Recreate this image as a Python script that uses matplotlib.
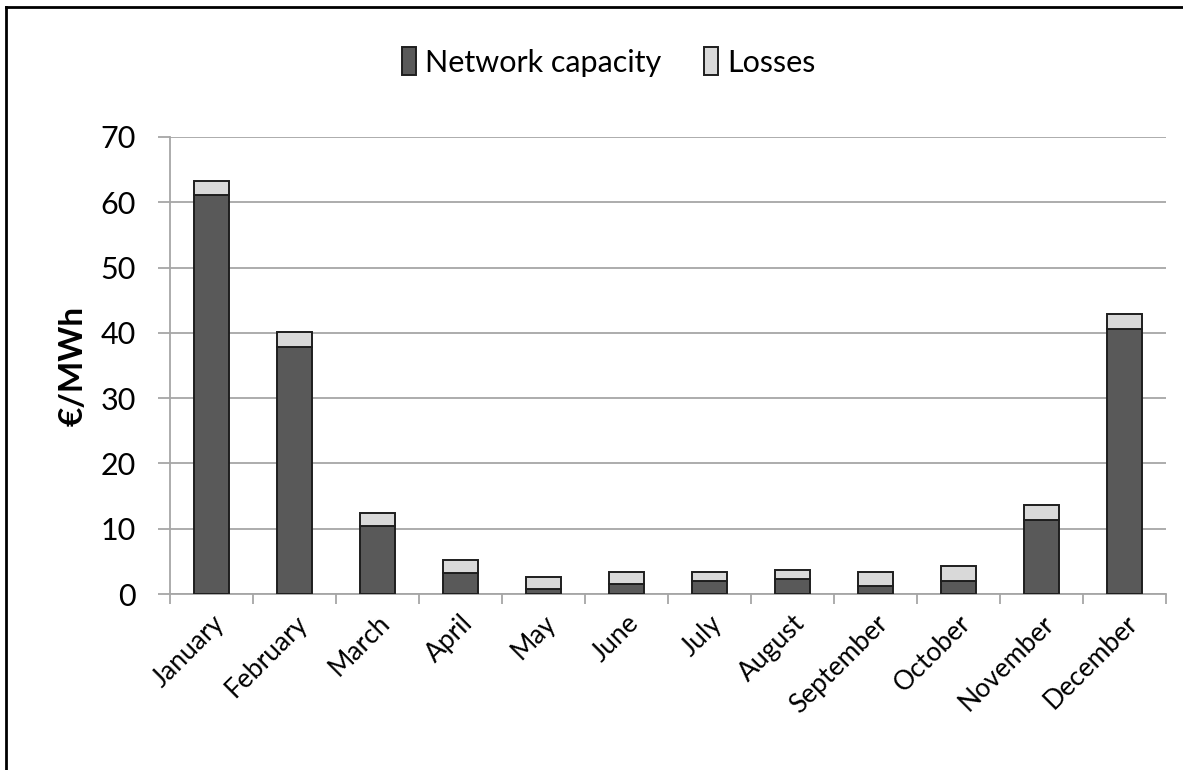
"""Monthly network cost per MWh: capacity + losses, stacked bars."""

import matplotlib
matplotlib.use("Agg")
import matplotlib.pyplot as plt
from matplotlib.lines import Line2D
import numpy as np

months = ["January", "February", "March", "April", "May", "June",
          "July", "August", "September", "October", "November", "December"]
network_capacity = [61.1, 37.9, 10.4, 3.2, 0.8, 1.5, 2.0, 2.3, 1.3, 2.0, 11.4, 40.6]
losses = [2.2, 2.2, 2.0, 2.0, 1.8, 1.8, 1.3, 1.3, 2.0, 2.3, 2.2, 2.3]

plt.rcParams["font.family"] = ["Lato", "DejaVu Sans"]

W, H = 1183, 770
fig = plt.figure(figsize=(W / 100, H / 100), dpi=100)
ax = fig.add_axes([170 / W, 1 - 594 / H, (1166 - 170) / W, (594 - 137) / H])

x = np.arange(len(months))
edge = "#1e1e1e"
b1 = ax.bar(x, network_capacity, width=0.41, color="#595959", edgecolor=edge,
            linewidth=1.4, label="Network capacity", zorder=3)
b2 = ax.bar(x, losses, width=0.41, bottom=network_capacity, color="#d9d9d9",
            edgecolor=edge, linewidth=1.4, label="Losses", zorder=3)

grid_c = "#a6a6a6"
ax.set_xlim(-0.5, len(months) - 0.5)
ax.set_ylim(0, 70)
ax.set_yticks(range(0, 71, 10))
ax.yaxis.grid(True, color=grid_c, linewidth=1.3, zorder=0)
for s in ["top", "right"]:
    ax.spines[s].set_visible(False)
for s in ["left", "bottom"]:
    ax.spines[s].set_color(grid_c)
    ax.spines[s].set_linewidth(1.3)

ax.set_xticks(x)
ax.set_xticklabels(months, rotation=45, ha="right", va="top",
                   rotation_mode="anchor", fontsize=19)
ax.tick_params(axis="x", length=0, pad=12)
ax.set_xticks(np.arange(-0.5, len(months)), minor=True)
ax.tick_params(axis="x", which="minor", length=7.5, color=grid_c, width=1.3)
ax.tick_params(axis="y", length=8.5, color=grid_c, width=1.3, labelsize=22, pad=16)

ax.set_ylabel("€/MWh", fontsize=24, fontweight="bold", labelpad=9)

fig.legend(handles=[b1, b2], loc="center", bbox_to_anchor=(609 / W, 1 - 62 / H),
           ncol=2, frameon=False, fontsize=22, handlelength=0.45, handleheight=1.0,
           handletextpad=0.3, columnspacing=1.4)

# outer frame, only top and left edges are visible in the source
fig.add_artist(Line2D([6 / W, 6 / W], [0, 1 - 7 / H], color="black", linewidth=2,
                      transform=fig.transFigure))
fig.add_artist(Line2D([6 / W, 1], [1 - 7 / H, 1 - 7 / H], color="black", linewidth=2,
                      transform=fig.transFigure))

fig.savefig("out.png", dpi=100)
